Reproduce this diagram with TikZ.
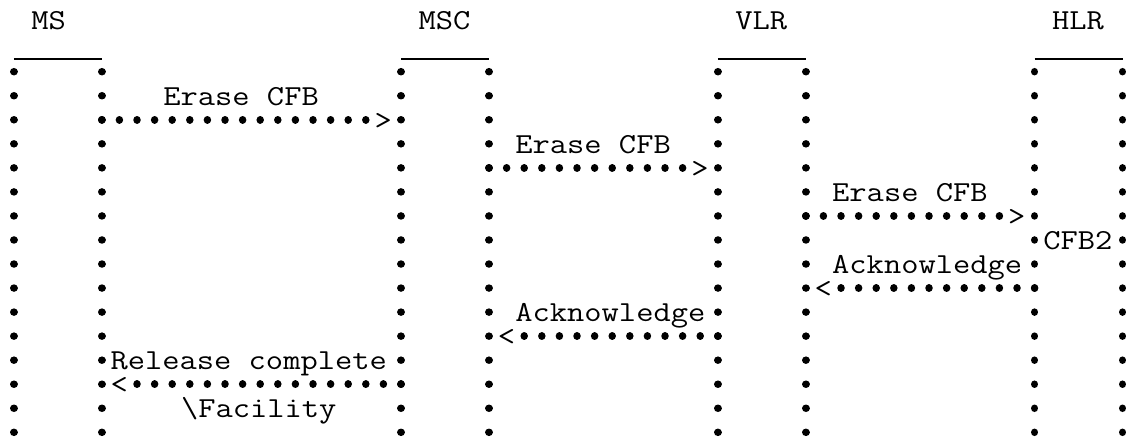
\documentclass[tikz,border=0pt]{standalone}
\usepackage{fontspec}
\usepackage{graphicx}
\newcommand\mtext[1]{\scalebox{1.156}[1]{\fontsize{29}{29}\selectfont\ttfamily #1}}
\begin{document}
\begin{tikzpicture}[x=1pt,y=-1pt,
  declare function={colx(\c)=13.8+17.6*\c; textx(\c)=5+17.6*\c; rowy(\r)=71.7+24.04*\r; basey(\r)=81.0+24.04*\r;},
  lbl/.style={inner sep=0pt, outer sep=0pt, anchor=base west},
  dotline/.style={line width=7.5pt, line cap=round, dash pattern=on 0.01pt off 24.03pt},
  msgdots/.style={line width=7.5pt, line cap=round, dash pattern=on 0.01pt off 17.59pt, shorten >=-1pt},
  bar/.style={line width=1.4pt}]
\useasboundingbox (0,0) rectangle (1131,441);

% titles
\node[lbl] (tMS)  at ({textx(1.5)},29.5)  {\mtext{MS}};
\node[lbl] (tMSC) at ({textx(23.5)},29.5) {\mtext{MSC}};
\node[lbl] (tVLR) at ({textx(41.5)},29.5) {\mtext{VLR}};
\node[lbl] (tHLR) at ({textx(59.5)},29.5) {\mtext{HLR}};

% lifeline ends
\foreach \n/\c in {MSa/0,MSb/5,MSCa/22,MSCb/27,VLRa/40,VLRb/45,HLRa/58,HLRb/63}{
  \coordinate (\n-top) at ({colx(\c)},{rowy(0)});
  \coordinate (\n-bot) at ({colx(\c)},{rowy(15)+1});
  \coordinate (\n-bar) at ({colx(\c)},59);
}
% header bars
\foreach \p in {MS,MSC,VLR,HLR}{
  \draw[bar] (\p a-bar) -- (\p b-bar);
}
% lifelines
\foreach \n in {MSa,MSb,MSCa,MSCb,VLRa,VLRb,HLRa,HLRb}{
  \draw[dotline] (\n-top) -- (\n-bot);
}

% messages
\coordinate (m1s) at ({colx(5)},{rowy(2)});  \coordinate (m1e) at ({colx(20)},{rowy(2)});
\node[lbl] (m1h) at ({textx(21)},{basey(2)}) {\mtext{>}};
\draw[msgdots] (m1s) -- (m1e);

\coordinate (m2s) at ({colx(27)},{rowy(4)}); \coordinate (m2e) at ({colx(38)},{rowy(4)});
\node[lbl] (m2h) at ({textx(39)},{basey(4)}) {\mtext{>}};
\draw[msgdots] (m2s) -- (m2e);

\coordinate (m3s) at ({colx(45)},{rowy(6)}); \coordinate (m3e) at ({colx(56)},{rowy(6)});
\node[lbl] (m3h) at ({textx(57)},{basey(6)}) {\mtext{>}};
\draw[msgdots] (m3s) -- (m3e);

\coordinate (m4s) at ({colx(47)},{rowy(9)}); \coordinate (m4e) at ({colx(58)},{rowy(9)});
\node[lbl] (m4h) at ({textx(46)},{basey(9)}) {\mtext{<}};
\draw[msgdots] (m4s) -- (m4e);

\coordinate (m5s) at ({colx(29)},{rowy(11)}); \coordinate (m5e) at ({colx(40)},{rowy(11)});
\node[lbl] (m5h) at ({textx(28)},{basey(11)}) {\mtext{<}};
\draw[msgdots] (m5s) -- (m5e);

\coordinate (m6s) at ({colx(7)},{rowy(13)}); \coordinate (m6e) at ({colx(22)},{rowy(13)});
\node[lbl] (m6h) at ({textx(6)},{basey(13)}) {\mtext{<}};
\draw[msgdots] (m6s) -- (m6e);

% labels
\node[lbl] (l1) at ({textx(9)},{basey(1)})   {\mtext{Erase CFB}};
\node[lbl] (l2) at ({textx(29)},{basey(3)})  {\mtext{Erase CFB}};
\node[lbl] (l3) at ({textx(47)},{basey(5)})  {\mtext{Erase CFB}};
\node[lbl] (l4) at ({textx(59)},{basey(7)})  {\mtext{CFB2}};
\node[lbl] (l5) at ({textx(47)},{basey(8)})  {\mtext{Acknowledge}};
\node[lbl] (l6) at ({textx(29)},{basey(10)}) {\mtext{Acknowledge}};
\node[lbl] (l7) at ({textx(6)},{basey(12)})  {\mtext{Release complete}};
\node[lbl] (l8) at ({textx(10)},{basey(14)}) {\mtext{\textbackslash Facility}};
\end{tikzpicture}
\end{document}
